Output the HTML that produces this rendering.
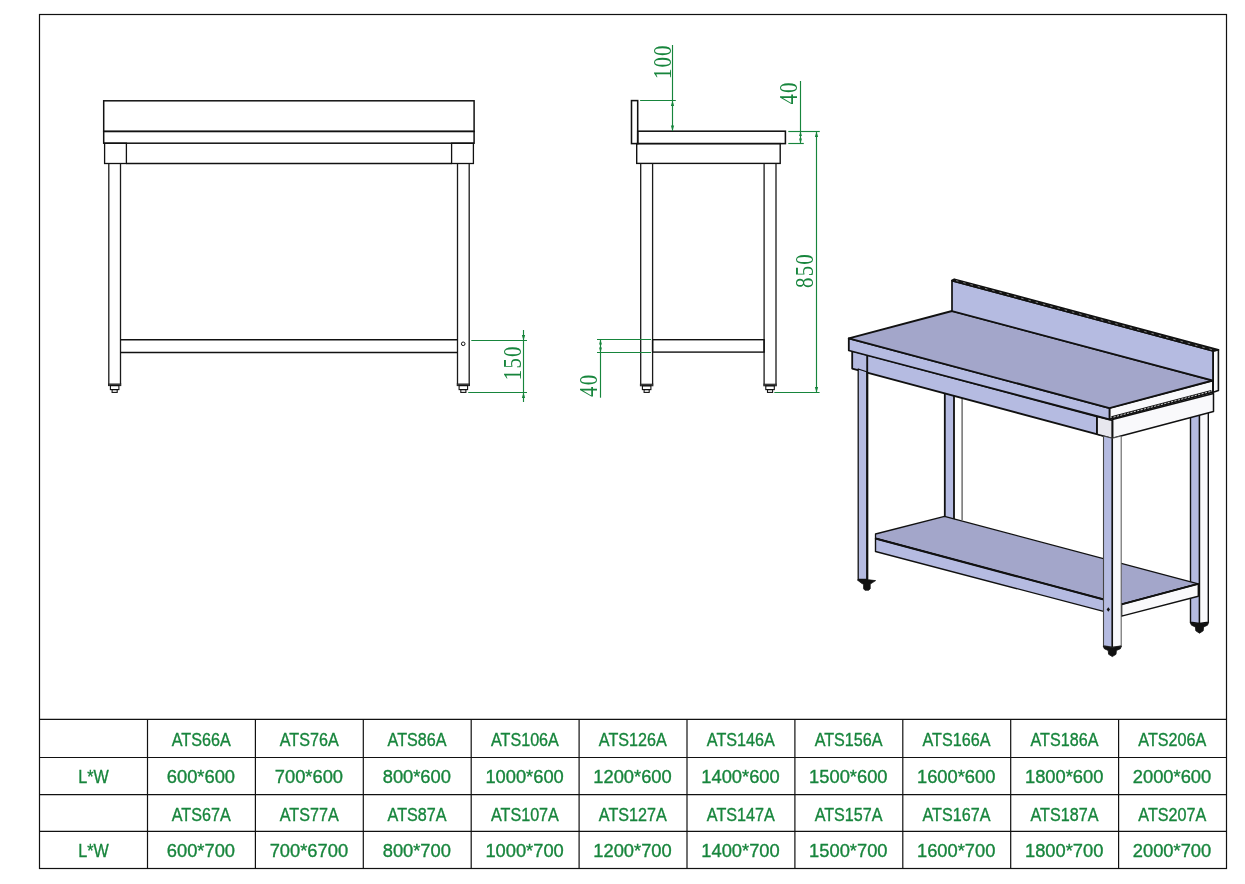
<!DOCTYPE html>
<html><head><meta charset="utf-8"><title>Work table drawing</title>
<style>
html,body{margin:0;padding:0;background:#fff;}
body{width:1245px;height:884px;overflow:hidden;font-family:"Liberation Sans",sans-serif;}
svg{display:block;will-change:transform;opacity:0.999;}
</style></head><body>
<svg width="1245" height="884" viewBox="0 0 1245 884">
<rect x="0" y="0" width="1245" height="884" fill="#ffffff"/>
<rect x="39.5" y="14.5" width="1187" height="854" stroke="#111" stroke-width="1.2" fill="none"/>
<rect x="103.7" y="100.8" width="370.4" height="30.6" stroke="#111" stroke-width="1.5" fill="none"/>
<rect x="103.7" y="131.4" width="370.4" height="11.8" stroke="#111" stroke-width="1.5" fill="none"/>
<rect x="104.6" y="143.2" width="21.8" height="20.3" stroke="#111" stroke-width="1.3" fill="none"/>
<rect x="451.6" y="143.2" width="21.8" height="20.3" stroke="#111" stroke-width="1.3" fill="none"/>
<line x1="126.4" y1="163.5" x2="451.6" y2="163.5" stroke="#111" stroke-width="1.3" />
<line x1="108.8" y1="163.5" x2="108.8" y2="384" stroke="#1a1a1a" stroke-width="1.3" />
<line x1="120.5" y1="163.5" x2="120.5" y2="384" stroke="#1a1a1a" stroke-width="1.3" />
<rect x="108.5" y="384" width="12.3" height="1.6" stroke="#222" stroke-width="1" fill="#555"/>
<rect x="110.39999999999999" y="385.6" width="8.5" height="4.0" stroke="#111" stroke-width="1.1" fill="none"/>
<rect x="112.1" y="389.6" width="5.1" height="2.8" stroke="#111" stroke-width="1.1" fill="none"/>
<line x1="457.5" y1="163.5" x2="457.5" y2="384" stroke="#1a1a1a" stroke-width="1.3" />
<line x1="469.2" y1="163.5" x2="469.2" y2="384" stroke="#1a1a1a" stroke-width="1.3" />
<rect x="457.2" y="384" width="12.3" height="1.6" stroke="#222" stroke-width="1" fill="#555"/>
<rect x="459.1" y="385.6" width="8.5" height="4.0" stroke="#111" stroke-width="1.1" fill="none"/>
<rect x="460.8" y="389.6" width="5.1" height="2.8" stroke="#111" stroke-width="1.1" fill="none"/>
<line x1="120.5" y1="339.8" x2="457.5" y2="339.8" stroke="#111" stroke-width="1.5" />
<line x1="120.5" y1="352.4" x2="457.5" y2="352.4" stroke="#111" stroke-width="1.5" />
<circle cx="463.2" cy="343.8" r="1.8" fill="none" stroke="#111" stroke-width="1.0"/>
<rect x="631.5" y="100.6" width="6.2" height="43.0" stroke="#111" stroke-width="1.55" fill="none"/>
<rect x="637.7" y="131.2" width="147.7" height="12.4" stroke="#111" stroke-width="1.55" fill="none"/>
<rect x="636.7" y="143.6" width="143.5" height="19.8" stroke="#111" stroke-width="1.4" fill="none"/>
<line x1="640.7" y1="163.4" x2="640.7" y2="384.2" stroke="#1a1a1a" stroke-width="1.3" />
<line x1="652.6" y1="163.4" x2="652.6" y2="384.2" stroke="#1a1a1a" stroke-width="1.3" />
<rect x="640.4000000000001" y="384.2" width="12.5" height="1.6" stroke="#222" stroke-width="1" fill="#555"/>
<rect x="642.4000000000001" y="385.8" width="8.5" height="3.8" stroke="#111" stroke-width="1.1" fill="none"/>
<rect x="644.1" y="389.6" width="5.1" height="2.8" stroke="#111" stroke-width="1.1" fill="none"/>
<line x1="764.1" y1="163.4" x2="764.1" y2="384.2" stroke="#1a1a1a" stroke-width="1.3" />
<line x1="776.0" y1="163.4" x2="776.0" y2="384.2" stroke="#1a1a1a" stroke-width="1.3" />
<rect x="763.8000000000001" y="384.2" width="12.5" height="1.6" stroke="#222" stroke-width="1" fill="#555"/>
<rect x="765.8000000000001" y="385.8" width="8.5" height="3.8" stroke="#111" stroke-width="1.1" fill="none"/>
<rect x="767.5" y="389.6" width="5.1" height="2.8" stroke="#111" stroke-width="1.1" fill="none"/>
<rect x="652.6" y="339.7" width="111.5" height="12.4" stroke="#111" stroke-width="1.4" fill="none"/>
<line x1="471.3" y1="340.5" x2="527" y2="340.5" stroke="#17853c" stroke-width="1.15" />
<line x1="468.2" y1="392.5" x2="527" y2="392.5" stroke="#17853c" stroke-width="1.15" />
<line x1="523.5" y1="330" x2="523.5" y2="402" stroke="#17853c" stroke-width="1.15" />
<polygon points="523.5,340.5 521.85,335.1 525.15,335.1" fill="#17853c" stroke="none"/>
<polygon points="523.5,392.5 521.85,397.9 525.15,397.9" fill="#17853c" stroke="none"/>
<text transform="translate(520.7,362.8) rotate(-90) scale(0.815,1)" text-anchor="middle" font-family="Liberation Serif, serif" font-size="25.6" letter-spacing="1.45" fill="#17853c">150</text>
<line x1="597" y1="339.5" x2="651" y2="339.5" stroke="#17853c" stroke-width="1.15" />
<line x1="597" y1="352.5" x2="651" y2="352.5" stroke="#17853c" stroke-width="1.15" />
<line x1="600.5" y1="339.5" x2="600.5" y2="397.7" stroke="#17853c" stroke-width="1.15" />
<polygon points="600.5,339.5 599.05,344.6 601.95,344.6" fill="#17853c"/>
<polygon points="600.5,352.5 599.05,347.4 601.95,347.4" fill="#17853c"/>
<text transform="translate(597.2,385.3) rotate(-90) scale(0.815,1)" text-anchor="middle" font-family="Liberation Serif, serif" font-size="25.6" letter-spacing="1.45" fill="#17853c">40</text>
<line x1="640.1" y1="100.5" x2="675.8" y2="100.5" stroke="#17853c" stroke-width="1.15" />
<line x1="672.5" y1="45" x2="672.5" y2="131" stroke="#17853c" stroke-width="1.15" />
<polygon points="672.5,100.5 670.85,105.9 674.15,105.9" fill="#17853c" stroke="none"/>
<polygon points="672.5,131 670.85,125.6 674.15,125.6" fill="#17853c" stroke="none"/>
<text transform="translate(670.5,61.7) rotate(-90) scale(0.815,1)" text-anchor="middle" font-family="Liberation Serif, serif" font-size="25.6" letter-spacing="1.45" fill="#17853c">100</text>
<line x1="788.3" y1="131.5" x2="819.8" y2="131.5" stroke="#17853c" stroke-width="1.15" />
<line x1="788.3" y1="143.5" x2="803.8" y2="143.5" stroke="#17853c" stroke-width="1.15" />
<line x1="800.5" y1="81" x2="800.5" y2="143.5" stroke="#17853c" stroke-width="1.15" />
<polygon points="800.5,131.5 799.05,136.0 801.95,136.0" fill="#17853c"/>
<polygon points="800.5,143.5 799.05,138.4 801.95,138.4" fill="#17853c"/>
<text transform="translate(797.3,92.9) rotate(-90) scale(0.815,1)" text-anchor="middle" font-family="Liberation Serif, serif" font-size="25.6" letter-spacing="1.45" fill="#17853c">40</text>
<line x1="816.5" y1="131.5" x2="816.5" y2="392.5" stroke="#17853c" stroke-width="1.15" />
<line x1="774.3" y1="392.5" x2="819.6" y2="392.5" stroke="#17853c" stroke-width="1.15" />
<polygon points="816.5,131.5 814.85,136.9 818.15,136.9" fill="#17853c" stroke="none"/>
<polygon points="816.5,392.5 814.85,387.1 818.15,387.1" fill="#17853c" stroke="none"/>
<text transform="translate(812.7,270.5) rotate(-90) scale(0.815,1)" text-anchor="middle" font-family="Liberation Serif, serif" font-size="25.6" letter-spacing="1.45" fill="#17853c">850</text>
<polygon points="944.8,380.0 954.0,380.0 954.0,520.0 944.8,520.0" fill="#b5bbe1" stroke="#111" stroke-width="1.8" stroke-linejoin="round" />
<line x1="962.1" y1="392" x2="962.1" y2="520" stroke="#5a5a5a" stroke-width="1.3" />
<polygon points="1190.5,400.0 1199.5,400.0 1199.5,623.5 1190.5,622.2" fill="#b5bbe1" stroke="#111" stroke-width="1.4" stroke-linejoin="round" />
<polygon points="1199.5,400.0 1208.3,400.0 1208.3,622.2 1199.5,623.5" fill="#f9f9fb" stroke="#111" stroke-width="1.4" stroke-linejoin="round" />
<polygon points="1190.2,622.6 1199.5,624.0 1208.6,622.6 1207.5,625.2 1203.6,627.0 1203.2,630.8 1199.5,633.2 1195.8,630.8 1195.4,627.0 1191.5,625.2" fill="#111" stroke="#111" stroke-width="0.8" stroke-linejoin="round" />
<polygon points="875.5,534.0 944.5,516.4 1198.3,583.8 1121.6,604.3 875.5,538.5" fill="#a3a6ca" stroke="#111" stroke-width="1.3" stroke-linejoin="round" />
<polygon points="875.5,538.5 1121.6,604.3 1121.6,616.1 875.5,551.5" fill="#b5bbe1" stroke="#111" stroke-width="1.4" stroke-linejoin="round" />
<polygon points="1121.6,604.3 1198.3,583.8 1198.3,596.2 1121.6,616.1" fill="#f9f9fb" stroke="#111" stroke-width="1.4" stroke-linejoin="round" />
<line x1="875.5" y1="538.5" x2="1121.6" y2="604.3" stroke="#111" stroke-width="2.0" />
<line x1="1121.6" y1="604.3" x2="1198.3" y2="583.8" stroke="#111" stroke-width="1.8" />
<polygon points="852.2,351.0 1112.4,420.6 1112.4,438.3 852.2,368.6" fill="#b5bbe1" stroke="#111" stroke-width="1.8" stroke-linejoin="round" />
<polygon points="1112.4,419.5 1213.5,393.4 1213.5,411.6 1112.4,438.3" fill="#f9f9fb" stroke="#111" stroke-width="1.5" stroke-linejoin="round" />
<polygon points="858.2,369.0 867.4,372.0 867.4,579.4 858.2,579.4" fill="#b5bbe1" stroke="#111" stroke-width="1.3" stroke-linejoin="round" />
<line x1="867.2" y1="372" x2="867.2" y2="579.4" stroke="#111" stroke-width="2.2" />
<polygon points="857.4,580.0 866.5,579.6 875.6,580.6 871.0,583.6 870.2,584.2 870.2,588.8 868.7,590.2 864.9,590.2 863.6,588.8 863.6,584.2 862.0,583.6" fill="#111" stroke="#111" stroke-width="0.8" stroke-linejoin="round" />
<line x1="867.2" y1="355.5" x2="867.2" y2="372.7" stroke="#111" stroke-width="1.9" />
<polygon points="1096.9,416.6 1112.4,420.6 1112.4,438.3 1096.9,434.2" fill="#e7e7ee" stroke="#111" stroke-width="1.3" stroke-linejoin="round" />
<line x1="1096.9" y1="417" x2="1096.9" y2="434.2" stroke="#111" stroke-width="1.8" />
<line x1="1112.4" y1="420" x2="1112.4" y2="438.3" stroke="#111" stroke-width="1.8" />
<polygon points="1103.5,436.0 1112.3,438.3 1112.3,647.1 1103.5,645.9" fill="#b5bbe1" stroke="#444" stroke-width="1.1" stroke-linejoin="round" />
<polygon points="1112.3,438.3 1121.2,436.0 1121.2,645.9 1112.3,647.1" fill="#f9f9fb" stroke="#555" stroke-width="1.0" stroke-linejoin="round" />
<line x1="1112.3" y1="438.3" x2="1112.3" y2="647.1" stroke="#111" stroke-width="1.5" />
<polygon points="1103.2,646.0 1112.3,647.5 1121.5,646.0 1120.4,648.7 1116.4,650.5 1116.0,654.3 1112.3,656.6 1108.6,654.3 1108.2,650.5 1104.3,648.7" fill="#111" stroke="#111" stroke-width="0.8" stroke-linejoin="round" />
<polygon points="1108.3,607.3 1110.0,609.5 1108.3,611.7 1106.6,609.5" fill="#111"/>
<polygon points="1109.5,408.1 1212.8,380.5 1212.8,392.3 1109.5,419.3" fill="#f9f9fb" stroke="#111" stroke-width="1.5" stroke-linejoin="round" />
<polygon points="848.8,338.4 1109.5,408.1 1109.5,419.3 848.8,350.5" fill="#b5bbe1" stroke="#111" stroke-width="1.8" stroke-linejoin="round" />
<polygon points="848.8,338.4 1109.5,408.1 1212.8,380.5 952.0,311.0" fill="#a3a6ca" stroke="#111" stroke-width="1.9" stroke-linejoin="round" />
<line x1="1111.5" y1="417.6" x2="1211.5" y2="391.2" stroke="#111" stroke-width="2.6" />
<line x1="1113.5" y1="417.1" x2="1210.5" y2="391.5" stroke="#fff" stroke-width="0.8" stroke-dasharray="2.2 1.3"/>
<polygon points="952.0,311.0 1213.2,380.6 1213.2,351.0 952.0,280.6" fill="#b5bbe1" stroke="#111" stroke-width="1.7" stroke-linejoin="round" />
<polygon points="1213.2,351.0 1218.4,349.8 1218.4,390.4 1213.2,392.2" fill="#f9f9fb" stroke="#111" stroke-width="1.6" stroke-linejoin="round" />
<polygon points="952.0,280.6 1213.2,351.0 1218.4,349.8 954.3,279.2" fill="#1a1a1a" stroke="#111" stroke-width="1.7" stroke-linejoin="round" />
<line x1="956" y1="280.6" x2="1214" y2="350.2" stroke="#fff" stroke-width="0.55" stroke-dasharray="2.5 5" stroke-opacity="0.8"/>
<line x1="39.5" y1="719.4" x2="1226.5" y2="719.4" stroke="#111" stroke-width="1.2" />
<line x1="39.5" y1="757.5" x2="1226.5" y2="757.5" stroke="#111" stroke-width="1.2" />
<line x1="39.5" y1="794.6" x2="1226.5" y2="794.6" stroke="#111" stroke-width="1.2" />
<line x1="39.5" y1="831.3" x2="1226.5" y2="831.3" stroke="#111" stroke-width="1.2" />
<line x1="147.5" y1="719.4" x2="147.5" y2="868.3" stroke="#111" stroke-width="1.2" />
<line x1="255.4" y1="719.4" x2="255.4" y2="868.3" stroke="#111" stroke-width="1.2" />
<line x1="363.3" y1="719.4" x2="363.3" y2="868.3" stroke="#111" stroke-width="1.2" />
<line x1="471.2" y1="719.4" x2="471.2" y2="868.3" stroke="#111" stroke-width="1.2" />
<line x1="579.1" y1="719.4" x2="579.1" y2="868.3" stroke="#111" stroke-width="1.2" />
<line x1="687.0" y1="719.4" x2="687.0" y2="868.3" stroke="#111" stroke-width="1.2" />
<line x1="794.9" y1="719.4" x2="794.9" y2="868.3" stroke="#111" stroke-width="1.2" />
<line x1="902.8" y1="719.4" x2="902.8" y2="868.3" stroke="#111" stroke-width="1.2" />
<line x1="1010.7" y1="719.4" x2="1010.7" y2="868.3" stroke="#111" stroke-width="1.2" />
<line x1="1118.6" y1="719.4" x2="1118.6" y2="868.3" stroke="#111" stroke-width="1.2" />
<text transform="translate(93.5,783.4) scale(0.86,1)" text-anchor="middle" font-family="Liberation Sans, sans-serif" font-size="18.8" fill="#17853c" stroke="#17853c" stroke-width="0.35">L*W</text>
<text transform="translate(93.5,857.4) scale(0.86,1)" text-anchor="middle" font-family="Liberation Sans, sans-serif" font-size="18.8" fill="#17853c" stroke="#17853c" stroke-width="0.35">L*W</text>
<text transform="translate(201.2,745.7) scale(0.86,1)" text-anchor="middle" font-family="Liberation Sans, sans-serif" font-size="18.8" fill="#17853c" stroke="#17853c" stroke-width="0.35">ATS66A</text>
<text transform="translate(201.2,820.7) scale(0.86,1)" text-anchor="middle" font-family="Liberation Sans, sans-serif" font-size="18.8" fill="#17853c" stroke="#17853c" stroke-width="0.35">ATS67A</text>
<text transform="translate(200.9,783.4) scale(0.975,1)" text-anchor="middle" font-family="Liberation Sans, sans-serif" font-size="18.8" fill="#17853c" stroke="#17853c" stroke-width="0.35">600*600</text>
<text transform="translate(200.9,857.4) scale(0.975,1)" text-anchor="middle" font-family="Liberation Sans, sans-serif" font-size="18.8" fill="#17853c" stroke="#17853c" stroke-width="0.35">600*700</text>
<text transform="translate(309.2,745.7) scale(0.86,1)" text-anchor="middle" font-family="Liberation Sans, sans-serif" font-size="18.8" fill="#17853c" stroke="#17853c" stroke-width="0.35">ATS76A</text>
<text transform="translate(309.2,820.7) scale(0.86,1)" text-anchor="middle" font-family="Liberation Sans, sans-serif" font-size="18.8" fill="#17853c" stroke="#17853c" stroke-width="0.35">ATS77A</text>
<text transform="translate(308.9,783.4) scale(0.975,1)" text-anchor="middle" font-family="Liberation Sans, sans-serif" font-size="18.8" fill="#17853c" stroke="#17853c" stroke-width="0.35">700*600</text>
<text transform="translate(308.9,857.4) scale(0.975,1)" text-anchor="middle" font-family="Liberation Sans, sans-serif" font-size="18.8" fill="#17853c" stroke="#17853c" stroke-width="0.35">700*6700</text>
<text transform="translate(417.1,745.7) scale(0.86,1)" text-anchor="middle" font-family="Liberation Sans, sans-serif" font-size="18.8" fill="#17853c" stroke="#17853c" stroke-width="0.35">ATS86A</text>
<text transform="translate(417.1,820.7) scale(0.86,1)" text-anchor="middle" font-family="Liberation Sans, sans-serif" font-size="18.8" fill="#17853c" stroke="#17853c" stroke-width="0.35">ATS87A</text>
<text transform="translate(416.8,783.4) scale(0.975,1)" text-anchor="middle" font-family="Liberation Sans, sans-serif" font-size="18.8" fill="#17853c" stroke="#17853c" stroke-width="0.35">800*600</text>
<text transform="translate(416.8,857.4) scale(0.975,1)" text-anchor="middle" font-family="Liberation Sans, sans-serif" font-size="18.8" fill="#17853c" stroke="#17853c" stroke-width="0.35">800*700</text>
<text transform="translate(524.9,745.7) scale(0.86,1)" text-anchor="middle" font-family="Liberation Sans, sans-serif" font-size="18.8" fill="#17853c" stroke="#17853c" stroke-width="0.35">ATS106A</text>
<text transform="translate(524.9,820.7) scale(0.86,1)" text-anchor="middle" font-family="Liberation Sans, sans-serif" font-size="18.8" fill="#17853c" stroke="#17853c" stroke-width="0.35">ATS107A</text>
<text transform="translate(524.6,783.4) scale(0.975,1)" text-anchor="middle" font-family="Liberation Sans, sans-serif" font-size="18.8" fill="#17853c" stroke="#17853c" stroke-width="0.35">1000*600</text>
<text transform="translate(524.6,857.4) scale(0.975,1)" text-anchor="middle" font-family="Liberation Sans, sans-serif" font-size="18.8" fill="#17853c" stroke="#17853c" stroke-width="0.35">1000*700</text>
<text transform="translate(632.8,745.7) scale(0.86,1)" text-anchor="middle" font-family="Liberation Sans, sans-serif" font-size="18.8" fill="#17853c" stroke="#17853c" stroke-width="0.35">ATS126A</text>
<text transform="translate(632.8,820.7) scale(0.86,1)" text-anchor="middle" font-family="Liberation Sans, sans-serif" font-size="18.8" fill="#17853c" stroke="#17853c" stroke-width="0.35">ATS127A</text>
<text transform="translate(632.5,783.4) scale(0.975,1)" text-anchor="middle" font-family="Liberation Sans, sans-serif" font-size="18.8" fill="#17853c" stroke="#17853c" stroke-width="0.35">1200*600</text>
<text transform="translate(632.5,857.4) scale(0.975,1)" text-anchor="middle" font-family="Liberation Sans, sans-serif" font-size="18.8" fill="#17853c" stroke="#17853c" stroke-width="0.35">1200*700</text>
<text transform="translate(740.8,745.7) scale(0.86,1)" text-anchor="middle" font-family="Liberation Sans, sans-serif" font-size="18.8" fill="#17853c" stroke="#17853c" stroke-width="0.35">ATS146A</text>
<text transform="translate(740.8,820.7) scale(0.86,1)" text-anchor="middle" font-family="Liberation Sans, sans-serif" font-size="18.8" fill="#17853c" stroke="#17853c" stroke-width="0.35">ATS147A</text>
<text transform="translate(740.5,783.4) scale(0.975,1)" text-anchor="middle" font-family="Liberation Sans, sans-serif" font-size="18.8" fill="#17853c" stroke="#17853c" stroke-width="0.35">1400*600</text>
<text transform="translate(740.5,857.4) scale(0.975,1)" text-anchor="middle" font-family="Liberation Sans, sans-serif" font-size="18.8" fill="#17853c" stroke="#17853c" stroke-width="0.35">1400*700</text>
<text transform="translate(848.6,745.7) scale(0.86,1)" text-anchor="middle" font-family="Liberation Sans, sans-serif" font-size="18.8" fill="#17853c" stroke="#17853c" stroke-width="0.35">ATS156A</text>
<text transform="translate(848.6,820.7) scale(0.86,1)" text-anchor="middle" font-family="Liberation Sans, sans-serif" font-size="18.8" fill="#17853c" stroke="#17853c" stroke-width="0.35">ATS157A</text>
<text transform="translate(848.3,783.4) scale(0.975,1)" text-anchor="middle" font-family="Liberation Sans, sans-serif" font-size="18.8" fill="#17853c" stroke="#17853c" stroke-width="0.35">1500*600</text>
<text transform="translate(848.3,857.4) scale(0.975,1)" text-anchor="middle" font-family="Liberation Sans, sans-serif" font-size="18.8" fill="#17853c" stroke="#17853c" stroke-width="0.35">1500*700</text>
<text transform="translate(956.5,745.7) scale(0.86,1)" text-anchor="middle" font-family="Liberation Sans, sans-serif" font-size="18.8" fill="#17853c" stroke="#17853c" stroke-width="0.35">ATS166A</text>
<text transform="translate(956.5,820.7) scale(0.86,1)" text-anchor="middle" font-family="Liberation Sans, sans-serif" font-size="18.8" fill="#17853c" stroke="#17853c" stroke-width="0.35">ATS167A</text>
<text transform="translate(956.2,783.4) scale(0.975,1)" text-anchor="middle" font-family="Liberation Sans, sans-serif" font-size="18.8" fill="#17853c" stroke="#17853c" stroke-width="0.35">1600*600</text>
<text transform="translate(956.2,857.4) scale(0.975,1)" text-anchor="middle" font-family="Liberation Sans, sans-serif" font-size="18.8" fill="#17853c" stroke="#17853c" stroke-width="0.35">1600*700</text>
<text transform="translate(1064.5,745.7) scale(0.86,1)" text-anchor="middle" font-family="Liberation Sans, sans-serif" font-size="18.8" fill="#17853c" stroke="#17853c" stroke-width="0.35">ATS186A</text>
<text transform="translate(1064.5,820.7) scale(0.86,1)" text-anchor="middle" font-family="Liberation Sans, sans-serif" font-size="18.8" fill="#17853c" stroke="#17853c" stroke-width="0.35">ATS187A</text>
<text transform="translate(1064.2,783.4) scale(0.975,1)" text-anchor="middle" font-family="Liberation Sans, sans-serif" font-size="18.8" fill="#17853c" stroke="#17853c" stroke-width="0.35">1800*600</text>
<text transform="translate(1064.2,857.4) scale(0.975,1)" text-anchor="middle" font-family="Liberation Sans, sans-serif" font-size="18.8" fill="#17853c" stroke="#17853c" stroke-width="0.35">1800*700</text>
<text transform="translate(1172.3,745.7) scale(0.86,1)" text-anchor="middle" font-family="Liberation Sans, sans-serif" font-size="18.8" fill="#17853c" stroke="#17853c" stroke-width="0.35">ATS206A</text>
<text transform="translate(1172.3,820.7) scale(0.86,1)" text-anchor="middle" font-family="Liberation Sans, sans-serif" font-size="18.8" fill="#17853c" stroke="#17853c" stroke-width="0.35">ATS207A</text>
<text transform="translate(1172.0,783.4) scale(0.975,1)" text-anchor="middle" font-family="Liberation Sans, sans-serif" font-size="18.8" fill="#17853c" stroke="#17853c" stroke-width="0.35">2000*600</text>
<text transform="translate(1172.0,857.4) scale(0.975,1)" text-anchor="middle" font-family="Liberation Sans, sans-serif" font-size="18.8" fill="#17853c" stroke="#17853c" stroke-width="0.35">2000*700</text>
</svg>
</body></html>
